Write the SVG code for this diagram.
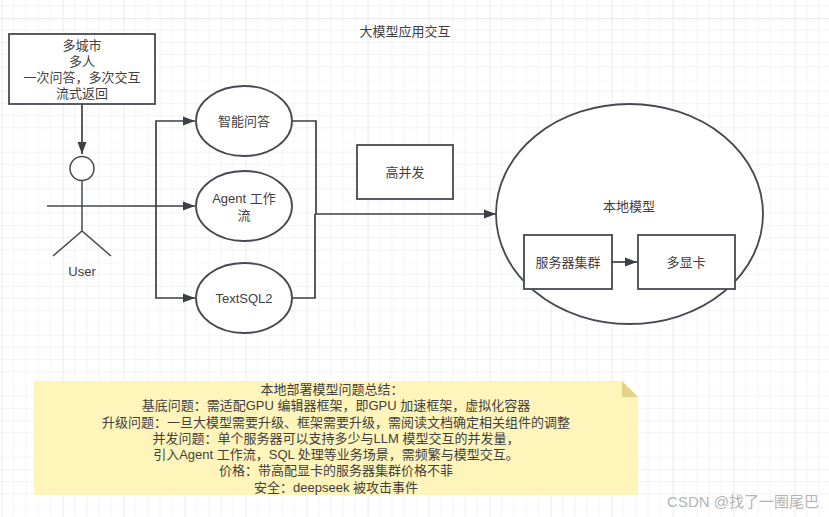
<svg xmlns="http://www.w3.org/2000/svg" width="829" height="517" viewBox="0 0 829 517">
<style>
text{font-family:"Liberation Sans","Noto Sans CJK SC",sans-serif;font-size:13px;fill:#3f4043;text-anchor:middle;dominant-baseline:central}
.shape{fill:#fff;stroke:#464a50;stroke-width:1.800}
.line{fill:none;stroke:#3c3f44;stroke-width:1.700}
.thin{fill:none;stroke:#464a50;stroke-width:1.500}
</style>
<defs>
<marker id="arrow" markerUnits="userSpaceOnUse" markerWidth="14" markerHeight="10" refX="12" refY="5" orient="auto"><path d="M0 0.500L12 5L0 9.500Z" fill="#3c3f44"/></marker>
<pattern id="grid" width="61" height="61" patternUnits="userSpaceOnUse" x="1.5" y="18">
<path d="M12.2 0V61M24.4 0V61M36.6 0V61M48.8 0V61M0 12.2H61M0 24.4H61M0 36.6H61M0 48.800H61" fill="none" stroke="#f3f3f3" stroke-width="1"/>
<path d="M0 0V61M0 0H61" fill="none" stroke="#ececec" stroke-width="2.400"/>
</pattern>
</defs>
<rect width="829" height="517" fill="#fff"/>
<rect width="829" height="517" fill="url(#grid)"/>
<g id="connectors">
<path class="line" marker-end="url(#arrow)" d="M82 104V154"/>
<path class="line" marker-end="url(#arrow)" d="M118 206H195"/>
<path class="line" marker-end="url(#arrow)" d="M156 206V121H195"/>
<path class="line" marker-end="url(#arrow)" d="M156 206V298H195"/>
<path class="line" d="M292 121H316V214"/>
<path class="line" d="M292 298H315V214"/>
<path class="line" marker-end="url(#arrow)" d="M315 214H496"/>
</g>
<g id="title"><text x="405" y="31">大模型应用交互</text></g>
<g id="note-box">
<rect class="shape" x="9" y="34" width="146" height="70"/>
<text x="82" y="45">多城市</text><text x="82" y="61">多人</text><text x="82" y="77">一次问答，多次交互</text><text x="82" y="93">流式返回</text>
</g>
<g id="user">
<circle class="thin" cx="82" cy="168.500" r="12" style="fill:#fff"/>
<path class="thin" d="M47 206H118M82 181V231M53 256L82 231L111 256"/>
<text x="82" y="271">User</text>
</g>
<g id="qa"><ellipse class="shape" cx="244" cy="121" rx="48" ry="35"/><text x="244" y="121">智能问答</text></g>
<g id="agent"><ellipse class="shape" cx="244" cy="206" rx="48" ry="35"/><text x="244" y="198">Agent 工作</text><text x="244" y="215">流</text></g>
<g id="textsql"><ellipse class="shape" cx="244" cy="298" rx="48" ry="35"/><text x="244" y="298">TextSQL2</text></g>
<g id="concurrency"><rect class="shape" x="357" y="145" width="96" height="54"/><text x="405" y="172">高并发</text></g>
<g id="local-model"><ellipse class="shape" cx="629.500" cy="214" rx="133.500" ry="110"/><text x="629" y="206">本地模型</text></g>
<g id="servers"><rect class="shape" x="524" y="235" width="88" height="54"/><text x="568" y="262">服务器集群</text></g>
<g id="gpus"><rect class="shape" x="638" y="235" width="97" height="54"/><text x="686" y="262">多显卡</text></g>
<path class="line" marker-end="url(#arrow)" d="M612 262H637"/>
<g id="summary">
<path d="M34 381H622L638 397V495H34Z" fill="#fff5ba"/>
<path d="M622 381L638 397H622Z" fill="#e6d083"/>
<text x="332" y="389">本地部署模型问题总结：</text>
<text x="336" y="405">基底问题：需适配GPU 编辑器框架，即GPU 加速框架，虚拟化容器</text>
<text x="336" y="422">升级问题：一旦大模型需要升级、框架需要升级，需阅读文档确定相关组件的调整</text>
<text x="336" y="438">并发问题：单个服务器可以支持多少与LLM 模型交互的并发量，</text>
<text x="336" y="454">引入Agent 工作流，SQL 处理等业务场景，需频繁与模型交互。</text>
<text x="336" y="470">价格：带高配显卡的服务器集群价格不菲</text>
<text x="336" y="487">安全：deepseek 被攻击事件</text>
</g>
<text x="743" y="501" style="font-size:15px;fill:#b4b4b4">CSDN @找了一圈尾巴</text>
</svg>
